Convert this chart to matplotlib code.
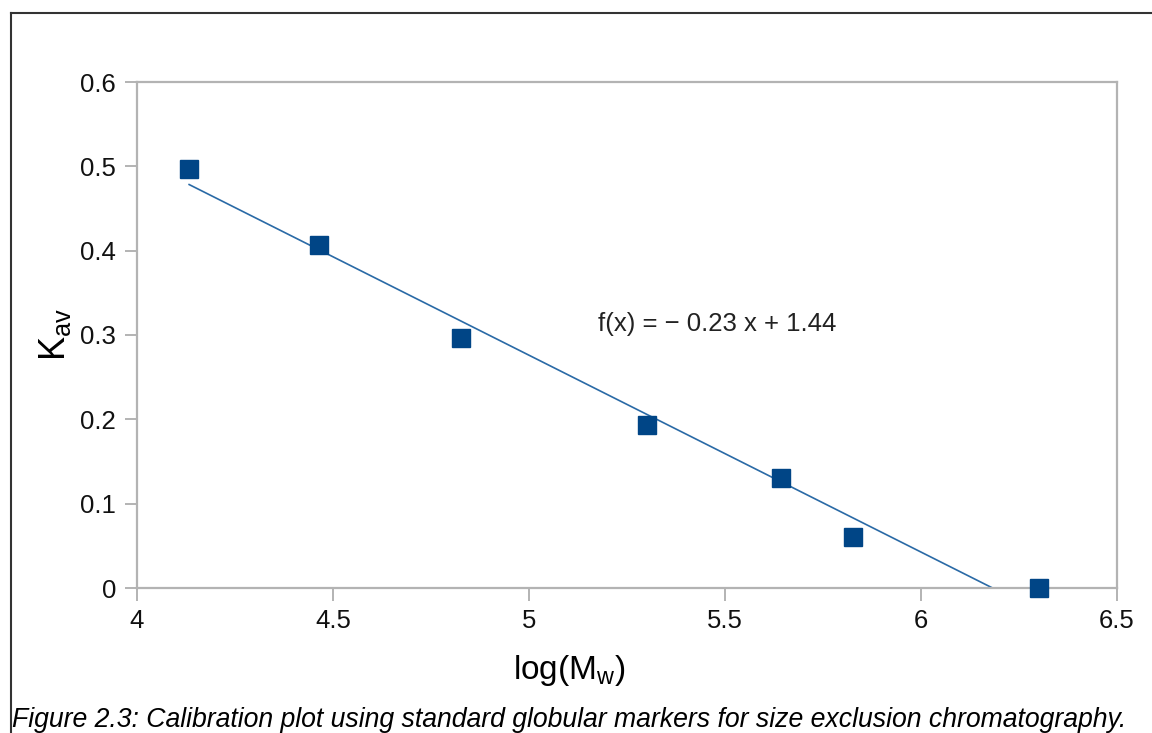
import numpy as np
import matplotlib
matplotlib.use("Agg")
import matplotlib.pyplot as plt
from matplotlib.lines import Line2D

plt.rcParams['font.family'] = ['Liberation Sans', 'DejaVu Sans']
plt.rcParams['mathtext.fontset'] = 'custom'
plt.rcParams['mathtext.rm'] = 'Liberation Sans'

# calibration standards: log(Mw) vs Kav
log_mw = [4.133, 4.464, 4.827, 5.301, 5.643, 5.827, 6.301]
kav = [0.497, 0.407, 0.296, 0.193, 0.130, 0.060, 0.000]
x_ticks = [4, 4.5, 5, 5.5, 6, 6.5]
y_ticks = [0, 0.1, 0.2, 0.3, 0.4, 0.5, 0.6]

W, H = 1152, 733
fig = plt.figure(figsize=(W / 100, H / 100), dpi=100)
ax = fig.add_axes([137 / W, 1 - 588 / H, 980 / W, 506 / H])

ax.plot(log_mw, kav, 's', color='#004586', markersize=13, zorder=3,
        clip_on=False)

# linear trend line
slope, icpt = np.polyfit(log_mw, kav, 1)
xx = np.array([min(log_mw), max(log_mw)])
ax.plot(xx, slope * xx + icpt, color='#2a6aa6', lw=1.2, zorder=2)

ax.set_xlim(4, 6.5)
ax.set_ylim(0, 0.6)
ax.set_xticks(x_ticks)
ax.set_xticklabels([f'{t:g}' for t in x_ticks])
ax.set_yticks(y_ticks)
ax.set_yticklabels([f'{t:g}' for t in y_ticks])

for s in ax.spines.values():
    s.set_color('#b3b3b3')
    s.set_linewidth(1.6)
ax.tick_params(direction='out', length=9, width=1.4, color='#b3b3b3',
               labelsize=18.5, labelcolor='#111111', pad=6)

ax.text(0.47, 0.522, f'f(x) = \u2212 {abs(slope):.2f} x + {icpt:.2f}',
        transform=ax.transAxes, fontsize=18.5, color='#222222',
        ha='left', va='center')

fig.text(569 / W, 1 - 670 / H, r'log(M$_{\mathregular{w}}$)', fontsize=24,
         ha='center', va='center')
fig.text(55 / W, 1 - 334 / H, r'K$_{\mathregular{av}}$', fontsize=26,
         rotation=90, ha='center', va='center')

# outer frame
fig.add_artist(Line2D([10.5 / W, 1.0], [1 - 12.5 / H, 1 - 12.5 / H],
                      color='#333333', lw=1.5, transform=fig.transFigure))
fig.add_artist(Line2D([10.5 / W, 10.5 / W], [0, 1 - 12.5 / H],
                      color='#333333', lw=1.5, transform=fig.transFigure))

fig.text(12 / W, 1 - 707 / H,
         'Figure 2.3: Calibration plot using standard globular markers for '
         'size exclusion chromatography.',
         fontsize=19.2, style='italic', ha='left', va='top')

fig.savefig('out.png', dpi=100)
